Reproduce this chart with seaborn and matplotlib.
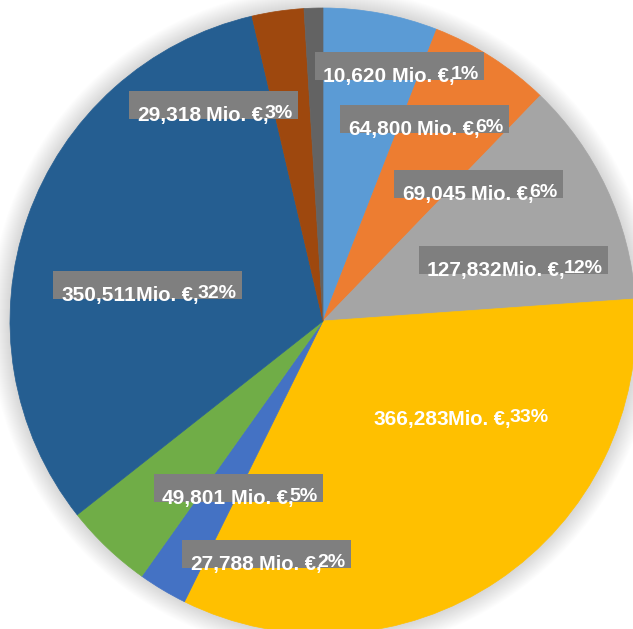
import matplotlib
matplotlib.use("Agg")
import matplotlib.pyplot as plt
from matplotlib.patches import Rectangle, Circle
import seaborn as sns

# slices, clockwise from 12 o'clock
values = [64800, 69045, 127832, 366283, 27788, 49801, 350511, 29318, 10620]
pct_labels = ["6%", "6%", "12%", "33%", "2%", "5%", "32%", "3%", "1%"]
colors = ["#5B9BD5", "#ED7D31", "#A5A5A5", "#FFC000", "#4472C4",
          "#70AD47", "#255E91", "#9E480E", "#636363"]

# label boxes: (left px, text baseline px from top, draw box?) per slice
label_layout = [
    (340, 135, True), (394, 200, True), (419, 276, True), (365, 425, False),
    (182, 570, True), (154, 504, True), (53, 301, True), (129, 121, True),
    (315, 82, True),
]

W, H = 633, 629
sns.set_theme(style="white")
plt.rcParams["font.family"] = ["Liberation Sans", "DejaVu Sans"]

fig = plt.figure(figsize=(W / 100, H / 100), dpi=100)
ax = fig.add_axes([0, 0, 1, 1])

cx, cy, r = 323, H - 321, 313

# soft glow-like shadow around the pie
for i in range(20):
    ax.add_patch(Circle((cx, cy), r + 20 - i, color="black",
                        alpha=0.008, lw=0, zorder=0))

wedges, _ = ax.pie(values, colors=sns.color_palette(colors), startangle=90,
                   counterclock=False, center=(cx, cy), radius=r, frame=True,
                   wedgeprops=dict(linewidth=0.5))
for w in wedges:
    w.set_edgecolor(w.get_facecolor())
ax.set_xlim(0, W)
ax.set_ylim(0, H)
ax.set_axis_off()

for v, p, (left, base, boxed) in zip(values, pct_labels, label_layout):
    num = f"{v:,}"
    wide = len(num) > 6
    width = 189 if wide else 169
    y = H - base
    if boxed:
        ax.add_patch(Rectangle((left, y + 2), width, 28, color="#7F7F7F",
                               lw=0, zorder=5))
    ax.text(left + 8, y, num, color="white", fontsize=15, fontweight="bold",
            ha="left", va="baseline", zorder=6)
    ax.text(left + (83 if wide else 77), y, "Mio. €,", color="white",
            fontsize=14.5, fontweight="bold", ha="left", va="baseline", zorder=6)
    ax.text(left + width - 5, y + 3, p, color="white", fontsize=14,
            fontweight="bold", ha="right", va="baseline", zorder=6)

fig.savefig("out.png", dpi=100)
